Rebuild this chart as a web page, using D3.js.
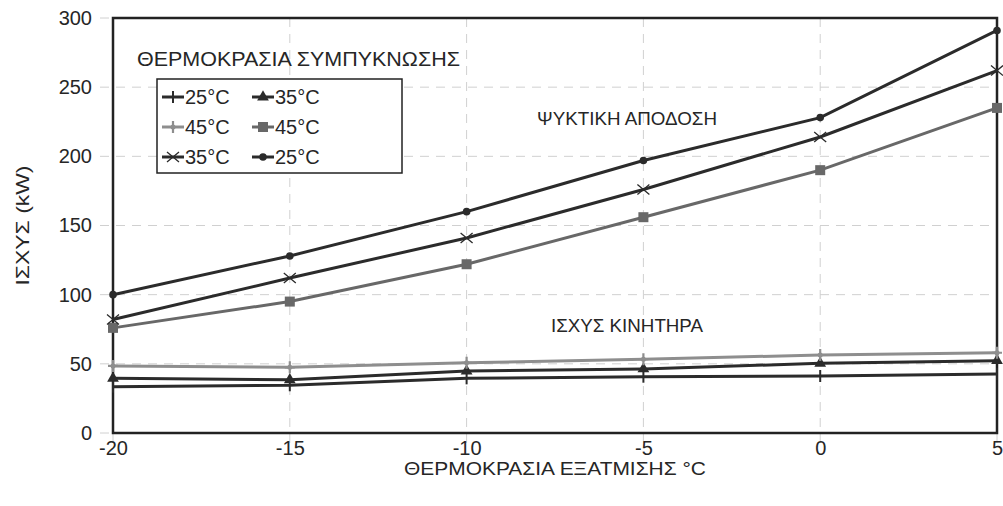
<!DOCTYPE html>
<html>
<head>
<meta charset="utf-8">
<script src="https://cdn.jsdelivr.net/npm/d3@7"></script>
<style>
body { margin: 0; background: #fff; }
svg text { font-family: "Liberation Sans", Arial, sans-serif; fill: #262626; }
</style>
</head>
<body>
<div id="graphicContainer"></div>
<script>
// evaporation temperature (°C)
var evapTemps = [-20, -15, -10, -5, 0, 5]
var yTicks = [0, 50, 100, 150, 200, 250, 300]

// cooling capacity (kW) per condensing temperature
var cool25 = [100, 128, 160, 197, 228, 291]
var cool35 = [82, 112, 141, 176, 214, 262]
var cool45 = [76, 95, 122, 156, 190, 235]

// motor power (kW) per condensing temperature
var motor25 = [33.5, 34.5, 39.5, 40.7, 41.2, 42.7]
var motor35 = [39.5, 38.5, 44.8, 46.3, 50.4, 52.3]
var motor45 = [48.5, 47.5, 50.8, 53.3, 56.4, 58]

var series = [
	{ label: " 25°C", values: motor25, color: "#2b2b2b", marker: "plus" },
	{ label: " 35°C", values: motor35, color: "#2b2b2b", marker: "triangle" },
	{ label: "45°C", values: motor45, color: "#8e8e8e", marker: "star" },
	{ label: "45°C", values: cool45, color: "#686868", marker: "square" },
	{ label: "35°C", values: cool35, color: "#2b2b2b", marker: "cross" },
	{ label: "25°C", values: cool25, color: "#2b2b2b", marker: "circle" }
]

var margin = {top: 18, right: 6, bottom: 73, left: 113}
var width = 1003 - margin.left - margin.right
var height = 506 - margin.top - margin.bottom

var svg = d3.select("#graphicContainer").append("svg")
	.attr("width", 1003)
	.attr("height", 506)

var features = svg.append("g").attr("transform", "translate(" + margin.left + "," + margin.top + ")")

var x = d3.scaleLinear().domain([-20, 5]).range([0, width])
var y = d3.scaleLinear().domain([0, 300]).range([height, 0])

// grid
features.selectAll(".hgrid")
	.data(yTicks)
	.enter().append("line")
	.attr("x1", -13).attr("x2", width)
	.attr("y1", function(d) { return y(d) }).attr("y2", function(d) { return y(d) })
	.attr("stroke", "#d0d0d0").attr("stroke-width", 1).attr("stroke-dasharray", "9,7")

features.selectAll(".vgrid")
	.data(evapTemps)
	.enter().append("line")
	.attr("x1", function(d) { return x(d) }).attr("x2", function(d) { return x(d) })
	.attr("y1", 0).attr("y2", height + 10)
	.attr("stroke", "#d0d0d0").attr("stroke-width", 1).attr("stroke-dasharray", "9,7")

var xAxis = d3.axisBottom(x).tickValues(evapTemps).tickSize(0).tickPadding(8)
	.tickFormat(function(d) { return String(d) })
var yAxis = d3.axisLeft(y).tickValues(yTicks).tickSize(0).tickPadding(21)

var gx = features.append("g")
	.attr("transform", "translate(0," + height + ")")
	.call(xAxis)
gx.select(".domain").remove()
gx.selectAll("text").style("font-size", "20px").attr("fill", "#262626")

var gy = features.append("g").call(yAxis)
gy.select(".domain").remove()
gy.selectAll("text").style("font-size", "20px").attr("fill", "#262626")

// frame
features.append("rect")
	.attr("width", width).attr("height", height)
	.attr("fill", "none").attr("stroke", "#222").attr("stroke-width", 2.5)

function drawMarker(g, type, color) {
	if (type == "circle") {
		g.append("circle").attr("r", 3.8).attr("fill", color)
	} else if (type == "square") {
		g.append("rect").attr("x", -5).attr("y", -5).attr("width", 10).attr("height", 10).attr("fill", color)
	} else if (type == "triangle") {
		g.append("path").attr("d", d3.symbol().type(d3.symbolTriangle).size(60)).attr("fill", color)
	} else if (type == "cross") {
		g.append("path").attr("d", "M-6,-5L6,5M-6,5L6,-5").attr("stroke", color).attr("stroke-width", 1.3).attr("fill", "none")
	} else if (type == "star") {
		g.append("path").attr("d", "M0,-6L0,6M-5,0L5,0").attr("stroke", color).attr("stroke-width", 2.2).attr("fill", "none")
		g.append("circle").attr("r", 2.5).attr("fill", color)
	} else if (type == "plus") {
		g.append("path").attr("d", "M0,-6L0,6").attr("stroke", color).attr("stroke-width", 2).attr("fill", "none")
	}
}

var line = d3.line()
	.x(function(d, i) { return x(evapTemps[i]) })
	.y(function(d) { return y(d) })

series.forEach(function(s) {
	features.append("path")
		.datum(s.values)
		.attr("d", line)
		.attr("fill", "none")
		.attr("stroke", s.color)
		.attr("stroke-width", 3)
	s.values.forEach(function(v, i) {
		var g = features.append("g").attr("transform", "translate(" + x(evapTemps[i]) + "," + y(v) + ")")
		drawMarker(g, s.marker, s.color)
	})
})

// labels
function label(tx, ty, str, size, len, anchor) {
	return svg.append("text")
		.attr("x", tx).attr("y", ty)
		.attr("text-anchor", anchor || "middle")
		.attr("textLength", len).attr("lengthAdjust", "spacingAndGlyphs")
		.style("font-size", size + "px")
		.text(str)
}

label(0, 0, "ΙΣΧΥΣ (kW)", 18, 120)
	.attr("transform", "translate(29," + (margin.top + height / 2) + ") rotate(-90)")

label(555, 475, "ΘΕΡΜΟΚΡΑΣΙΑ ΕΞΑΤΜΙΣΗΣ °C", 19, 302)
label(137, 66, "ΘΕΡΜΟΚΡΑΣΙΑ ΣΥΜΠΥΚΝΩΣΗΣ", 20, 323, "start")
label(627, 125, "ΨΥΚΤΙΚΗ ΑΠΟΔΟΣΗ", 19, 180)
label(627, 332, "ΙΣΧΥΣ ΚΙΝΗΤΗΡΑ", 19, 152)

// legend
var legend = svg.append("g")
legend.append("rect")
	.attr("x", 157).attr("y", 79).attr("width", 245).attr("height", 94)
	.attr("fill", "#fff").attr("stroke", "#222").attr("stroke-width", 1.5)

series.forEach(function(s, i) {
	var col = i % 2
	var row = Math.floor(i / 2)
	var lx = 162 + col * 90
	var ly = 97 + row * 30
	var g = legend.append("g")
	g.append("line").attr("x1", lx).attr("x2", lx + 22).attr("y1", ly).attr("y2", ly)
		.attr("stroke", s.color).attr("stroke-width", 3)
	var m = g.append("g").attr("transform", "translate(" + (lx + 11) + "," + ly + ")")
	drawMarker(m, s.marker, s.color)
	g.append("text").attr("x", lx + 23).attr("y", ly + 7)
		.style("font-size", "20px")
		.text(s.label)
})
</script>
</body>
</html>
